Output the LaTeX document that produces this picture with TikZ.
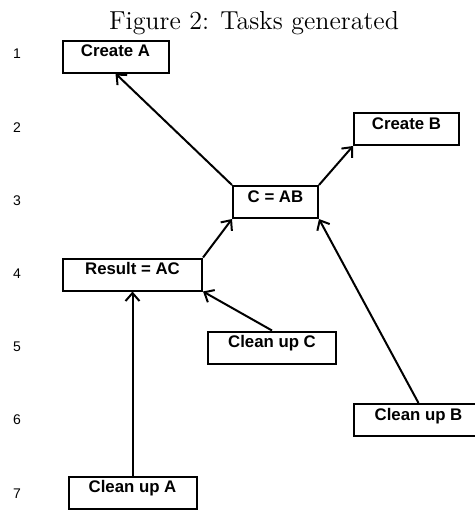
\documentclass[tikz,border=0pt]{standalone}
\usepackage{fontspec}
\newfontfamily\tasksans{Liberation Sans}
\usetikzlibrary{arrows.meta}
\tikzstyle{task} = [rectangle, draw=black, line width=1pt, font=\tasksans\bfseries\fontsize{8.4}{10}\selectfont, text height=7.5pt, text depth=7.5pt, inner ysep=0.5pt, inner xsep=0pt, text centered]
\tikzstyle{rownum} = [font=\tasksans\fontsize{7}{8}\selectfont]
\tikzstyle{arrow} = [line width=1pt, -{Straight Barb[length=4pt,width=7pt]}]

\begin{document}
\begin{tikzpicture}[x=0.5pt, y=-0.5pt]

        \useasboundingbox (0,0) rectangle (475,510);

        % Title
        \node[font=\fontsize{13}{15}\selectfont, anchor=base] (title) at (254,29) {Figure 2: Tasks generated};

        % Row numbers
        \foreach \r in {1,...,7}
            \node[rownum] (row\r) at (17,{54+73.2*(\r-1)}) {\r};

        % Tasks
        \node (createA) [task, minimum width=53pt] at (115.5,56.5) {Create A};
        \node (createB) [task, minimum width=52.5pt] at (406.5,129) {Create B};
        \node (cab) [task, minimum width=42.5pt] at (275.5,202) {C = AB};
        \node (result) [task, minimum width=69.5pt] at (132.5,274.5) {Result = AC};
        \node (cleanC) [task, minimum width=64pt] at (272,347.5) {Clean up C};
        \node (cleanB) [task, minimum width=64.5pt] at (418.5,420) {Clean up B};
        \node (cleanA) [task, minimum width=64pt] at (132.5,492.5) {Clean up A};

        % Dependencies
        \draw [arrow] (cab.north west) -- (createA.south);
        \draw [arrow] (cab.north east) -- (createB.south west);
        \draw [arrow] (result.north east) -- (cab.south west);
        \draw [arrow] (cleanB.north) -- (cab.south east);
        \draw [arrow] (cleanC.north) -- (result.south east);
        \draw [arrow] (cleanA.north) -- (result.south);

    \end{tikzpicture}
\end{document}
